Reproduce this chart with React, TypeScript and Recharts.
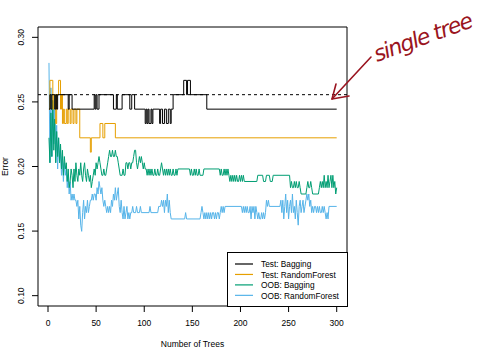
import React from 'react';
import { LineChart, Line, XAxis, YAxis, ReferenceLine, ReferenceArea, Legend } from 'recharts';

// ---------- data ----------
const xTicks = [0, 50, 100, 150, 200, 250, 300];
const yTicks = [0.1, 0.15, 0.2, 0.25, 0.3];
const seriesNames = ['Test: Bagging', 'Test: RandomForest', 'OOB: Bagging', 'OOB: RandomForest'];
const singleTreeError = 0.2556;

// test errors: [tree where value changes, error]
const testBagging: [number, number][] = [
  [1, 0.2444], [2, 0.2556], [3, 0.2444], [4, 0.2556], [7, 0.2444], [8, 0.2556], [9, 0.2444], [10, 0.2556],
  [21, 0.2444], [22, 0.2556], [25, 0.2444], [48, 0.2556], [49, 0.2444], [50, 0.2556], [51, 0.2444], [53, 0.2556],
  [68, 0.2444], [71, 0.2556], [72, 0.2444], [77, 0.2556], [85, 0.2444], [87, 0.2556], [90, 0.2444], [101, 0.2333],
  [102, 0.2444], [103, 0.2333], [104, 0.2444], [105, 0.2333], [107, 0.2444], [108, 0.2333], [109, 0.2444], [116, 0.2333],
  [117, 0.2444], [119, 0.2333], [121, 0.2444], [123, 0.2333], [125, 0.2444], [127, 0.2333], [128, 0.2444], [130, 0.2556],
  [141, 0.2667], [144, 0.2556], [145, 0.2667], [148, 0.2556], [165, 0.2444], [300, 0.2444],
];

const testRandomForest: [number, number][] = [
  [1, 0.2444], [2, 0.2667], [5, 0.2444], [6, 0.2556], [8, 0.2333], [9, 0.2556], [11, 0.2667], [13, 0.2444],
  [14, 0.2556], [15, 0.2333], [16, 0.2444], [17, 0.2333], [19, 0.2444], [20, 0.2333], [21, 0.2444], [23, 0.2333],
  [24, 0.2444], [26, 0.2333], [27, 0.2444], [29, 0.2333], [30, 0.2444], [33, 0.2222], [44, 0.2111], [45, 0.2222],
  [54, 0.2333], [57, 0.2222], [59, 0.2333], [70, 0.2222], [300, 0.2222],
];

const oobBagging: [number, number][] = [
  [1, 0.2222], [2, 0.2029], [3, 0.2415], [4, 0.2077], [5, 0.2512], [6, 0.2126], [7, 0.2367], [8, 0.2029],
  [9, 0.2271], [10, 0.2077], [11, 0.2222], [12, 0.2029], [13, 0.2174], [14, 0.1981], [15, 0.2126], [16, 0.1932],
  [17, 0.2077], [18, 0.1981], [19, 0.2029], [20, 0.1884], [21, 0.1981], [22, 0.1836], [23, 0.1884], [24, 0.1981],
  [25, 0.1932], [26, 0.1836], [27, 0.1981], [28, 0.1884], [29, 0.2029], [30, 0.1932], [31, 0.1884], [32, 0.1981],
  [33, 0.1932], [34, 0.2029], [35, 0.1932], [36, 0.1884], [37, 0.1981], [38, 0.2029], [39, 0.1932], [40, 0.1884],
  [41, 0.1981], [42, 0.1932], [43, 0.1884], [44, 0.1932], [45, 0.1836], [46, 0.1884], [47, 0.1932], [48, 0.1981],
  [49, 0.1932], [50, 0.2029], [51, 0.1981], [52, 0.2029], [53, 0.2077], [54, 0.2029], [55, 0.1981], [56, 0.1932],
  [57, 0.1932], [58, 0.1981], [59, 0.1932], [60, 0.1932], [61, 0.1981], [62, 0.2029], [63, 0.2077], [64, 0.2126],
  [65, 0.2077], [66, 0.2077], [67, 0.2126], [68, 0.2077], [69, 0.2077], [70, 0.2126], [71, 0.2077], [72, 0.2077],
  [73, 0.2029], [74, 0.1981], [75, 0.1932], [77, 0.1932], [78, 0.1981], [79, 0.1932], [80, 0.1932], [81, 0.2029],
  [82, 0.2029], [83, 0.1981], [84, 0.2029], [85, 0.2029], [86, 0.1981], [87, 0.2029], [88, 0.2029], [89, 0.2077],
  [90, 0.2126], [91, 0.2126], [92, 0.2029], [93, 0.1981], [94, 0.2029], [95, 0.2077], [96, 0.2029], [97, 0.2077],
  [98, 0.2029], [99, 0.1981], [100, 0.2029], [101, 0.1981], [102, 0.1981], [103, 0.1932], [104, 0.1981], [105, 0.1932],
  [106, 0.1981], [107, 0.1932], [108, 0.1981], [109, 0.1932], [110, 0.1932], [111, 0.1981], [112, 0.1932], [113, 0.1932],
  [114, 0.1981], [115, 0.1932], [116, 0.1932], [117, 0.1981], [118, 0.2029], [119, 0.1981], [120, 0.1932], [121, 0.1981],
  [122, 0.1932], [123, 0.1981], [124, 0.1932], [125, 0.1981], [126, 0.1932], [127, 0.1981], [128, 0.1932], [129, 0.1932],
  [130, 0.1981], [131, 0.1932], [132, 0.1932], [133, 0.1981], [134, 0.1932], [135, 0.1981], [147, 0.1981], [148, 0.1932],
  [149, 0.1981], [150, 0.1932], [151, 0.1932], [152, 0.1981], [153, 0.1932], [154, 0.1981], [155, 0.1932], [156, 0.1932],
  [157, 0.1981], [158, 0.1932], [161, 0.1932], [162, 0.1981], [178, 0.1981], [179, 0.1932], [180, 0.1981], [181, 0.1932],
  [182, 0.1932], [183, 0.1981], [184, 0.1932], [185, 0.1981], [186, 0.1932], [187, 0.1981], [188, 0.1932], [189, 0.1884],
  [190, 0.1932], [191, 0.1884], [192, 0.1932], [193, 0.1884], [194, 0.1932], [195, 0.1884], [196, 0.1932], [197, 0.1884],
  [198, 0.1884], [199, 0.1932], [200, 0.1884], [201, 0.1932], [202, 0.1884], [203, 0.1932], [204, 0.1884], [217, 0.1884],
  [218, 0.1932], [223, 0.1932], [224, 0.1884], [226, 0.1884], [227, 0.1932], [230, 0.1932], [231, 0.1884], [233, 0.1884],
  [234, 0.1932], [251, 0.1932], [252, 0.1836], [253, 0.1884], [254, 0.1836], [255, 0.1836], [256, 0.1884], [257, 0.1836],
  [258, 0.1884], [259, 0.1836], [260, 0.1836], [261, 0.1884], [262, 0.1836], [263, 0.1787], [268, 0.1787], [269, 0.1836],
  [270, 0.1884], [271, 0.1836], [272, 0.1836], [273, 0.1884], [274, 0.1836], [275, 0.1787], [281, 0.1787], [282, 0.1836],
  [283, 0.1884], [284, 0.1836], [285, 0.1884], [286, 0.1836], [287, 0.1932], [288, 0.1836], [289, 0.1884], [290, 0.1836],
  [291, 0.1932], [292, 0.1836], [293, 0.1884], [294, 0.1932], [295, 0.1836], [296, 0.1932], [297, 0.1836], [298, 0.1884],
  [299, 0.1787], [300, 0.1836],
];

const oobRandomForest: [number, number][] = [
  [1, 0.2802], [2, 0.2029], [3, 0.2609], [4, 0.2077], [5, 0.2512], [6, 0.2174], [7, 0.2560], [8, 0.2029],
  [9, 0.2319], [10, 0.1981], [11, 0.2222], [12, 0.2029], [13, 0.2126], [14, 0.1932], [15, 0.2077], [16, 0.1884],
  [17, 0.2029], [18, 0.1932], [19, 0.1981], [20, 0.1836], [21, 0.1932], [22, 0.1787], [23, 0.1884], [24, 0.1739],
  [25, 0.1787], [26, 0.1739], [27, 0.1787], [28, 0.1739], [29, 0.1739], [30, 0.1691], [31, 0.1739], [32, 0.1594],
  [33, 0.1691], [34, 0.1546], [35, 0.1498], [36, 0.1643], [37, 0.1739], [38, 0.1594], [39, 0.1691], [40, 0.1643],
  [41, 0.1739], [42, 0.1643], [43, 0.1691], [44, 0.1739], [45, 0.1739], [46, 0.1787], [47, 0.1739], [48, 0.1787],
  [49, 0.1787], [50, 0.1739], [51, 0.1836], [52, 0.1787], [53, 0.1884], [54, 0.1836], [55, 0.1787], [56, 0.1836],
  [57, 0.1739], [58, 0.1691], [59, 0.1739], [60, 0.1691], [61, 0.1643], [62, 0.1691], [63, 0.1643], [64, 0.1691],
  [65, 0.1643], [66, 0.1739], [67, 0.1691], [68, 0.1787], [69, 0.1739], [70, 0.1836], [71, 0.1739], [72, 0.1787],
  [73, 0.1836], [74, 0.1691], [75, 0.1643], [76, 0.1739], [77, 0.1643], [78, 0.1594], [79, 0.1691], [80, 0.1594],
  [81, 0.1643], [82, 0.1691], [83, 0.1594], [84, 0.1643], [85, 0.1594], [86, 0.1643], [87, 0.1643], [88, 0.1691],
  [89, 0.1643], [91, 0.1643], [92, 0.1691], [93, 0.1643], [95, 0.1643], [96, 0.1691], [97, 0.1643], [105, 0.1643],
  [106, 0.1691], [107, 0.1643], [114, 0.1643], [115, 0.1691], [117, 0.1691], [118, 0.1739], [119, 0.1691], [120, 0.1739],
  [121, 0.1643], [122, 0.1739], [123, 0.1691], [124, 0.1787], [125, 0.1643], [126, 0.1739], [127, 0.1643], [128, 0.1594],
  [142, 0.1594], [143, 0.1643], [144, 0.1594], [158, 0.1594], [159, 0.1643], [160, 0.1691], [161, 0.1643], [162, 0.1594],
  [163, 0.1643], [164, 0.1594], [165, 0.1643], [166, 0.1594], [167, 0.1643], [168, 0.1594], [169, 0.1643], [170, 0.1594],
  [171, 0.1643], [172, 0.1643], [173, 0.1594], [174, 0.1643], [175, 0.1594], [176, 0.1643], [177, 0.1643], [178, 0.1594],
  [179, 0.1643], [180, 0.1691], [181, 0.1643], [182, 0.1691], [183, 0.1643], [184, 0.1691], [201, 0.1691], [202, 0.1643],
  [203, 0.1691], [204, 0.1643], [205, 0.1691], [206, 0.1643], [207, 0.1691], [208, 0.1643], [209, 0.1643], [210, 0.1691],
  [211, 0.1594], [212, 0.1691], [213, 0.1643], [214, 0.1691], [215, 0.1594], [216, 0.1691], [217, 0.1643], [218, 0.1594],
  [219, 0.1643], [220, 0.1594], [221, 0.1594], [222, 0.1643], [223, 0.1594], [224, 0.1643], [225, 0.1594], [226, 0.1643],
  [227, 0.1739], [228, 0.1691], [229, 0.1739], [230, 0.1691], [241, 0.1691], [242, 0.1739], [243, 0.1643], [244, 0.1739],
  [245, 0.1594], [246, 0.1691], [247, 0.1787], [248, 0.1643], [249, 0.1739], [250, 0.1594], [251, 0.1691], [252, 0.1739],
  [253, 0.1643], [254, 0.1787], [255, 0.1643], [256, 0.1691], [257, 0.1594], [258, 0.1739], [259, 0.1643], [260, 0.1546],
  [261, 0.1691], [262, 0.1739], [263, 0.1643], [264, 0.1691], [265, 0.1739], [266, 0.1643], [267, 0.1691], [268, 0.1739],
  [269, 0.1787], [270, 0.1739], [271, 0.1787], [272, 0.1691], [273, 0.1739], [274, 0.1643], [275, 0.1691], [276, 0.1643],
  [277, 0.1691], [278, 0.1691], [279, 0.1643], [280, 0.1691], [281, 0.1643], [282, 0.1691], [283, 0.1643], [284, 0.1643],
  [285, 0.1691], [286, 0.1643], [287, 0.1691], [288, 0.1643], [289, 0.1594], [290, 0.1643], [291, 0.1594], [292, 0.1691],
  [300, 0.1691],
];

// ---------- styles ----------
const FONT = '"Liberation Sans", Arial, Helvetica, sans-serif';
const COLORS = ['#000000', '#E69F00', '#009E73', '#56B4E9'];
const toRows = (pts: [number, number][]) => pts.map(([t, err]) => ({ t, err }));

const YTick = (props: any) => {
  const { x, y, payload } = props;
  return (
    <text x={x} y={y} transform={`rotate(-90 ${x} ${y})`} textAnchor="middle"
      fontSize={8.5} fontFamily={FONT} fill="#000">
      {Number(payload.value).toFixed(2)}
    </text>
  );
};

const ErrorLabel = () => (
  <text x={8} y={166.5} transform="rotate(-90 8 166.5)" textAnchor="middle"
    fontSize={8.5} fontFamily={FONT} fill="#000">Error</text>
);

const LegendBox = () => (
  <svg width={121} height={55} style={{ display: 'block' }}>
    <rect x={0.5} y={0.5} width={120} height={54} fill="#fff" stroke="#000" strokeWidth={1} />
    {seriesNames.map((n, i) => {
      const cy = 12 + i * 10.45;
      return (
        <g key={n}>
          <line x1={8} x2={26} y1={cy} y2={cy} stroke={COLORS[i]} strokeWidth={1.2} />
          <text x={34} y={cy + 3.2} fontSize={8.3} fontFamily={FONT} fill="#000">{n}</text>
        </g>
      );
    })}
  </svg>
);

export default function App() {
  const X_DOMAIN: [number, number] = [-10.4, 310.7];
  const Y_DOMAIN: [number, number] = [0.092, 0.308];
  const series = [testBagging, testRandomForest, oobBagging, oobRandomForest];
  return (
    <div style={{ position: 'absolute', left: 0, top: 0, width: 483, height: 356, background: '#fff' }}>
      <LineChart width={483} height={356} margin={{ top: 27, right: 136, bottom: 5, left: 0 }}>
        <XAxis dataKey="t" type="number" domain={X_DOMAIN} ticks={xTicks} allowDataOverflow
          height={45} tickSize={6} tickMargin={8} interval={0}
          axisLine={false} tickLine={{ stroke: '#000' }}
          tick={{ fontSize: 8.5, fill: '#000', fontFamily: FONT }}
          label={{ value: 'Number of Trees', position: 'insideBottom', offset: 4, fontSize: 8.5, fill: '#000', fontFamily: FONT }} />
        <YAxis type="number" domain={Y_DOMAIN} ticks={yTicks} allowDataOverflow
          width={38} tickSize={6} tickMargin={8} interval={0}
          axisLine={false} tickLine={{ stroke: '#000' }}
          tick={<YTick />} label={<ErrorLabel />} />
        <ReferenceArea x1={X_DOMAIN[0]} x2={X_DOMAIN[1]} y1={Y_DOMAIN[0]} y2={Y_DOMAIN[1]}
          fill="none" fillOpacity={0} stroke="#000" strokeWidth={1} ifOverflow="visible" />
        <ReferenceLine y={singleTreeError} stroke="#000" strokeDasharray="3 3" strokeWidth={1} />
        {[3, 2, 1, 0].map((i) => (
          <Line key={seriesNames[i]} data={toRows(series[i])} dataKey="err" name={seriesNames[i]}
            type={i < 2 ? 'stepAfter' : 'linear'} stroke={COLORS[i]} strokeWidth={1}
            dot={false} activeDot={false} isAnimationActive={false} />
        ))}
        <Legend content={<LegendBox />} layout="vertical" align="center" verticalAlign="middle"
          wrapperStyle={{ position: 'absolute', left: 227, top: 252, width: 121, height: 55 }} />
      </LineChart>
      <svg width={483} height={356} style={{ position: 'absolute', left: 0, top: 0, pointerEvents: 'none' }}>
        <text x={377} y={62} transform="rotate(-20 377 62)" fontSize={22} fontStyle="italic"
          fontFamily='"DejaVu Sans", sans-serif' fill="#9a1420" textLength={104}>single tree</text>
        <line x1={371} y1={57} x2={332} y2={99} stroke="#9a1420" strokeWidth={1.6} strokeLinecap="round" />
        <polyline points="349,96 332,99 336,84" fill="none" stroke="#9a1420" strokeWidth={1.6}
          strokeLinecap="round" strokeLinejoin="round" />
      </svg>
    </div>
  );
}
